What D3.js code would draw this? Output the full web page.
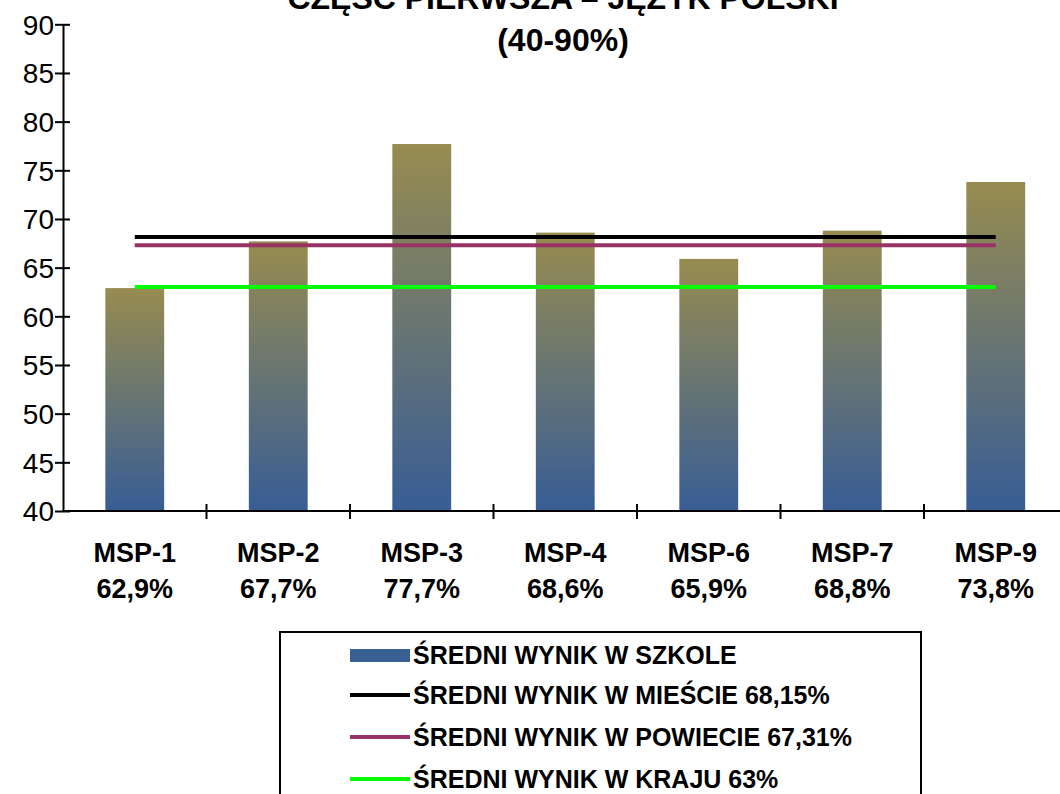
<!DOCTYPE html>
<html lang="pl">
<head>
    <meta charset="utf-8">
    <title>Część pierwsza - język polski</title>
    <script src="https://d3js.org/d3.v7.min.js"></script>
    <style>
        body { margin: 0; background: #fff; }
        text { font-family: "Liberation Sans", Arial, sans-serif; fill: #000; }
        .title { font-size: 32px; font-weight: bold; text-anchor: middle; }
        .ytick { font-size: 28px; text-anchor: end; }
        .xlab { font-size: 27px; font-weight: bold; text-anchor: middle; }
        .leg { font-size: 25px; font-weight: bold; }
    </style>
</head>
<body>
<script>
    // dane
    const schools = ["MSP-1", "MSP-2", "MSP-3", "MSP-4", "MSP-6", "MSP-7", "MSP-9"];
    const schoolScores = [62.9, 67.7, 77.7, 68.6, 65.9, 68.8, 73.8];
    const scoreLabels = ["62,9%", "67,7%", "77,7%", "68,6%", "65,9%", "68,8%", "73,8%"];
    const refNames = ["ŚREDNI WYNIK W MIEŚCIE 68,15%", "ŚREDNI WYNIK W POWIECIE 67,31%", "ŚREDNI WYNIK W KRAJU 63%"];
    const refValues = [68.15, 67.31, 63];
    const refColors = ["#000000", "#993366", "#00ff00"];
    const yTicks = [40, 45, 50, 55, 60, 65, 70, 75, 80, 85, 90];
    const titleLines = ["CZĘŚĆ PIERWSZA – JĘZYK POLSKI", "(40-90%)"];

    const W = 1060, H = 794;
    const svg = d3.select("body").append("svg").attr("width", W).attr("height", H);

    const x = d3.scaleBand().domain(schools).range([63, 63 + 7 * 143.5]).padding(0);
    const y = d3.scaleLinear().domain([40, 90]).range([511, 24.3]);
    const barW = x.bandwidth() * 0.41;

    const grad = svg.append("defs").append("linearGradient")
        .attr("id", "barGrad").attr("x1", 0).attr("y1", 0).attr("x2", 0).attr("y2", 1);
    grad.append("stop").attr("offset", "0%").attr("stop-color", "#978c50");
    grad.append("stop").attr("offset", "100%").attr("stop-color", "#385d95");

    // słupki
    svg.selectAll("rect.bar").data(schools).join("rect")
        .attr("class", "bar")
        .attr("x", d => x(d) + (x.bandwidth() - barW) / 2)
        .attr("width", barW)
        .attr("y", (d, i) => y(schoolScores[i]))
        .attr("height", (d, i) => y(40) - y(schoolScores[i]))
        .attr("fill", "url(#barGrad)");

    // linie odniesienia
    const x0 = x(schools[0]) + x.bandwidth() / 2;
    const x1 = x(schools[schools.length - 1]) + x.bandwidth() / 2;
    refValues.forEach((v, i) => {
        svg.append("line")
            .attr("x1", x0).attr("x2", x1)
            .attr("y1", y(v)).attr("y2", y(v))
            .attr("stroke", refColors[i]).attr("stroke-width", 4);
    });

    // oś Y
    const yAxis = svg.append("g").attr("transform", "translate(63,0)")
        .call(d3.axisLeft(y).tickValues(yTicks).tickSize(8).tickSizeOuter(0).tickFormat(d3.format("d")));
    yAxis.select(".domain").attr("stroke", "#000").attr("stroke-width", 2);
    yAxis.selectAll(".tick line").attr("x2", 7).attr("x1", -8).attr("stroke-width", 2);
    yAxis.selectAll(".tick text").attr("class", "ytick").attr("x", -9).attr("dy", "0.35em");
    yAxis.attr("font-size", null).attr("font-family", null);

    // oś X
    const xAxisG = svg.append("g");
    xAxisG.append("line").attr("x1", 63).attr("x2", W + 10)
        .attr("y1", y(40)).attr("y2", y(40)).attr("stroke", "#000").attr("stroke-width", 2);
    xAxisG.selectAll("line.xt").data(schools.slice(1)).join("line")
        .attr("class", "xt")
        .attr("x1", d => x(d)).attr("x2", d => x(d))
        .attr("y1", y(40) - 7).attr("y2", y(40) + 8)
        .attr("stroke", "#000").attr("stroke-width", 2);
    xAxisG.selectAll("text.n").data(schools).join("text")
        .attr("class", "xlab")
        .attr("x", d => x(d) + x.bandwidth() / 2).attr("y", 562)
        .text(d => d);
    xAxisG.selectAll("text.v").data(scoreLabels).join("text")
        .attr("class", "xlab")
        .attr("x", (d, i) => x(schools[i]) + x.bandwidth() / 2).attr("y", 598)
        .text(d => d);

    // tytuł (pierwsza linia ucięta u góry, jak w oryginale)
    svg.selectAll("text.title").data(titleLines).join("text")
        .attr("class", "title")
        .attr("x", 563).attr("y", (d, i) => 9 + i * 42)
        .text(d => d);

    // legenda
    const leg = svg.append("g");
    leg.append("rect").attr("x", 280).attr("y", 632).attr("width", 641).attr("height", 200)
        .attr("fill", "#fff").attr("stroke", "#000").attr("stroke-width", 2);
    const rowY = [655, 695, 737, 779];
    leg.append("rect").attr("x", 350).attr("y", rowY[0] - 6).attr("width", 60).attr("height", 13)
        .attr("fill", "#3a5f93");
    leg.append("text").attr("class", "leg").attr("x", 413).attr("y", rowY[0] + 9)
        .text("ŚREDNI WYNIK W SZKOLE");
    refNames.forEach((n, i) => {
        leg.append("line").attr("x1", 350).attr("x2", 410)
            .attr("y1", rowY[i + 1]).attr("y2", rowY[i + 1])
            .attr("stroke", refColors[i]).attr("stroke-width", 4);
        leg.append("text").attr("class", "leg").attr("x", 413).attr("y", rowY[i + 1] + 9).text(n);
    });
</script>
</body>
</html>
